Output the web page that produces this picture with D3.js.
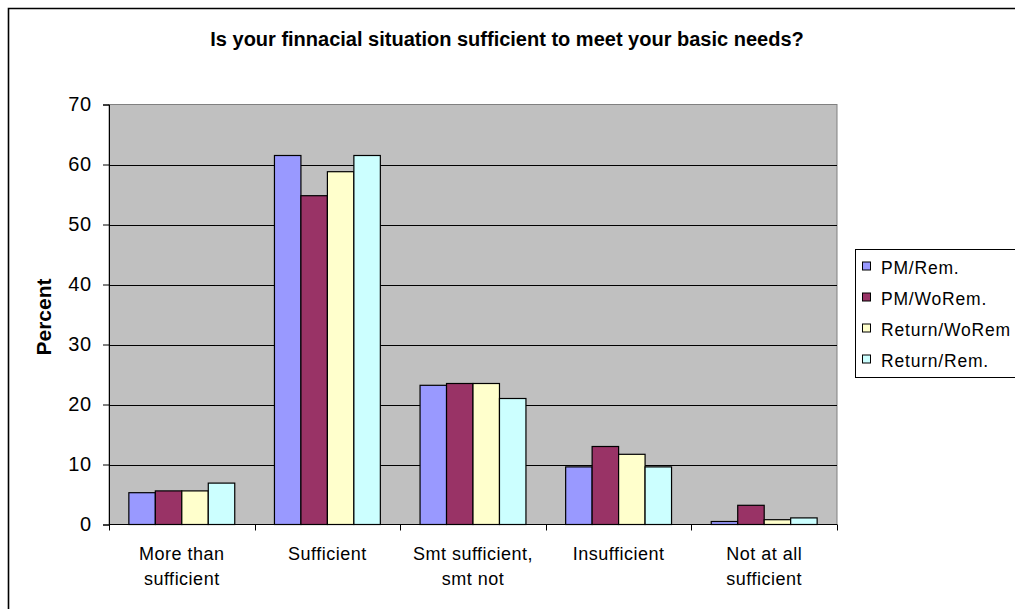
<!DOCTYPE html>
<html><head><meta charset="utf-8">
<script src="https://cdn.jsdelivr.net/npm/d3@7"></script>
<style>body{margin:0;background:#fff}svg{display:block}text{font-family:"Liberation Sans",Arial,sans-serif}</style>
</head><body>
<script>
const categories = [["More than","sufficient"],["Sufficient"],["Smt sufficient,","smt not"],["Insufficient"],["Not at all","sufficient"]];
const seriesNames = ["PM/Rem.","PM/WoRem.","Return/WoRem","Return/Rem."];
const pmRem = [5.3, 61.5, 23.2, 9.6, 0.5];
const pmWoRem = [5.6, 54.8, 23.5, 13.0, 3.2];
const returnWoRem = [5.6, 58.8, 23.5, 11.7, 0.8];
const returnRem = [6.9, 61.5, 21.0, 9.6, 1.1];
const yTicks = [0,10,20,30,40,50,60,70];
const colors = ["#9999FF","#993366","#FFFFCC","#CCFFFF"];
const series = [pmRem, pmWoRem, returnWoRem, returnRem];

const W = 1015, H = 609;
const svg = d3.select("body").append("svg").attr("width", W).attr("height", H);

// outer frame
svg.append("path").attr("d", `M8.5,${H} V8.5 H${W}`).attr("fill","none").attr("stroke","#000").attr("stroke-width",1.6);

const pLeft = 109, pRight = 837, pTop = 104.5, pBottom = 524.5;
const x0 = d3.scaleBand().domain(d3.range(categories.length)).range([pLeft, pRight]).padding(0);
const y = d3.scaleLinear().domain([0,70]).range([pBottom, pTop]);

// plot area
svg.append("rect").attr("x", pLeft).attr("y", pTop).attr("width", pRight-pLeft).attr("height", pBottom-pTop)
  .attr("fill","#C0C0C0").attr("stroke","#808080").attr("stroke-width",1);

// gridlines
svg.append("g").selectAll("line").data(yTicks.filter(d=>d>0 && d<70)).join("line")
  .attr("x1", pLeft).attr("x2", pRight).attr("y1", d=>Math.round(y(d))+0.5).attr("y2", d=>Math.round(y(d))+0.5)
  .attr("stroke","#000").attr("stroke-width",1);

// bars
const bw = x0.bandwidth()/5.5;
series.forEach((s, si) => {
  svg.append("g").selectAll("rect").data(s).join("rect")
    .attr("x", (d,i) => x0(i) + bw*0.75 + si*bw)
    .attr("y", d => y(d))
    .attr("width", bw)
    .attr("height", d => pBottom - y(d))
    .attr("fill", colors[si]).attr("stroke","#000").attr("stroke-width",1.2);
});

// y axis
const yAxis = d3.axisLeft(y).tickValues(yTicks).tickSize(6).tickPadding(11).tickFormat(d3.format("d"));
const ya = svg.append("g").attr("transform",`translate(${pLeft},0)`).call(yAxis);
ya.select(".domain").attr("stroke","#000");
ya.selectAll(".tick line").attr("stroke","#000");
ya.selectAll("text").attr("font-size",20).attr("fill","#000").attr("letter-spacing",0.8)
  .attr("font-family",'"Liberation Sans",Arial,sans-serif');

// x axis
const xTickPos = d3.range(categories.length+1).map(i => pLeft + i*x0.bandwidth());
svg.append("line").attr("x1",pLeft).attr("x2",pRight).attr("y1",pBottom).attr("y2",pBottom).attr("stroke","#000");
svg.append("g").selectAll("line").data(xTickPos).join("line")
  .attr("x1",d=>Math.round(d)+0.5).attr("x2",d=>Math.round(d)+0.5).attr("y1",pBottom).attr("y2",pBottom+6).attr("stroke","#000");
const xl = svg.append("g");
categories.forEach((lines,i) => {
  const t = xl.append("text").attr("x", x0(i)+x0.bandwidth()/2).attr("y", 560)
    .attr("text-anchor","middle").attr("font-size",18).attr("letter-spacing",0.5).attr("fill","#000");
  lines.forEach((ln,j) => t.append("tspan").attr("x", x0(i)+x0.bandwidth()/2).attr("dy", j===0?0:25).text(ln));
});

// title
svg.append("text").attr("x", 507).attr("y", 46).attr("text-anchor","middle")
  .attr("font-size",20).attr("font-weight","bold").attr("fill","#000")
  .text("Is your finnacial situation sufficient to meet your basic needs?");

// y label
svg.append("text").attr("transform","translate(51,317) rotate(-90)").attr("text-anchor","middle")
  .attr("font-size",21).attr("font-weight","bold").attr("fill","#000").text("Percent");

// legend
const lg = svg.append("g");
lg.append("rect").attr("x",855.5).attr("y",249.5).attr("width",200).attr("height",128).attr("fill","#fff").attr("stroke","#000");
seriesNames.forEach((n,i) => {
  const base = 273.5 + i*31;
  lg.append("rect").attr("x",862.5).attr("y",base-11.5).attr("width",8).attr("height",8).attr("fill",colors[i]).attr("stroke","#000");
  lg.append("text").attr("x",881).attr("y",base).attr("font-size",17.5).attr("letter-spacing",0.8).attr("fill","#000").text(n);
});
</script>
</body></html>
